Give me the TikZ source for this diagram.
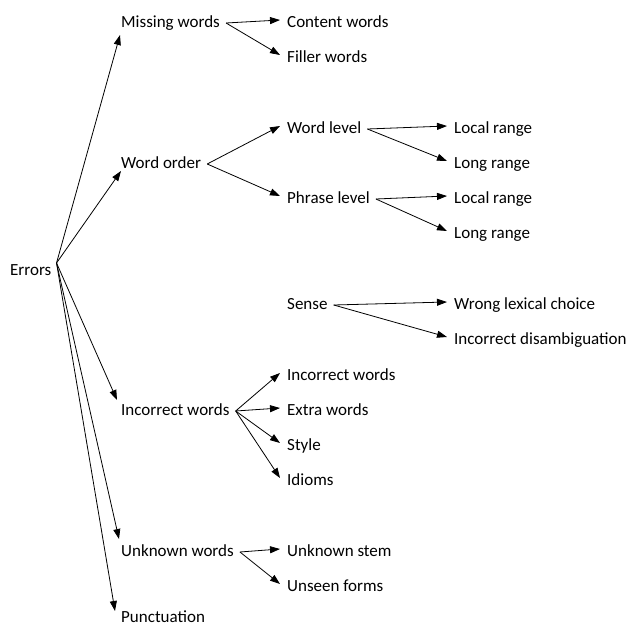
\documentclass[tikz,border=0pt]{standalone}
\usepackage{fontspec}
\setmainfont{Carlito}
\usetikzlibrary{arrows.meta}
\tikzset{
  item/.style = {font=\fontsize{17}{20}\selectfont, anchor=base west, inner sep=0pt,
                 text height=11pt, text depth=3pt},
  arr/.style  = {-{Triangle[length=10pt,width=7pt]}, draw=black, line width=0.8pt},
}
\begin{document}
\begin{tikzpicture}[x=1pt,y=-1pt]
  \useasboundingbox (0,0) rectangle (630,627);
  % ----- root and first level -----
  \node[item] (err) at (10,275) {Errors};
  \node[item] (mw) at (121,27) {Missing words};
  \node[item] (wo) at (121,168) {Word order};
  \node[item] (iw) at (121,415) {Incorrect words};
  \node[item] (uw) at (121,556) {Unknown words};
  \node[item] (pu) at (121,622) {Punctuation};

  % ----- second level -----
  \node[item] (cw) at (287,27) {Content words};
  \node[item] (fw) at (287,62) {Filler words};
  \node[item] (wl) at (287,133) {Word level};
  \node[item] (pl) at (287,203) {Phrase level};
  \node[item] (se) at (287,309) {Sense};
  \node[item] (icw) at (287,380) {Incorrect words};
  \node[item] (ew) at (287,415) {Extra words};
  \node[item] (st) at (287,450) {Style};
  \node[item] (id) at (287,485) {Idioms};
  \node[item] (us) at (287,556) {Unknown stem};
  \node[item] (uf) at (287,591) {Unseen forms};

  % ----- third level -----
  \node[item] (lr1) at (454,133) {Local range};
  \node[item] (lg1) at (454,168) {Long range};
  \node[item] (lr2) at (454,203) {Local range};
  \node[item] (lg2) at (454,238) {Long range};
  \node[item] (wlc) at (454,309) {Wrong lexical choice};
  \node[item] (ida) at (454,344) {Incorrect disambiguation};

  % ----- arrows from the root -----
  \draw[arr] ([xshift=5pt,yshift=8pt]err.east) -- ([xshift=-1pt,yshift=-12pt]mw.west);
  \draw[arr] ([xshift=5pt,yshift=8pt]err.east) -- ([xshift=0pt,yshift=-7pt]wo.west);
  \draw[arr] ([xshift=5pt,yshift=8pt]err.east) -- ([xshift=-4pt,yshift=11pt]iw.west);
  \draw[arr] ([xshift=5pt,yshift=8pt]err.east) -- ([xshift=-2pt,yshift=13pt]uw.west);
  \draw[arr] ([xshift=5pt,yshift=8pt]err.east) -- ([xshift=-6pt,yshift=7pt]pu.west);

  % ----- arrows to the children -----
  \foreach \p/\c in {mw/cw, mw/fw, wo/wl, wo/pl, wl/lr1, wl/lg1, pl/lr2, pl/lg2,
                     se/wlc, se/ida, iw/icw, iw/ew, iw/st, iw/id, uw/us, uw/uf}
  {
    \draw[arr] ([xshift=6pt]\p.east) -- ([xshift=-7pt,yshift=3pt]\c.west);
  }
\end{tikzpicture}
\end{document}
